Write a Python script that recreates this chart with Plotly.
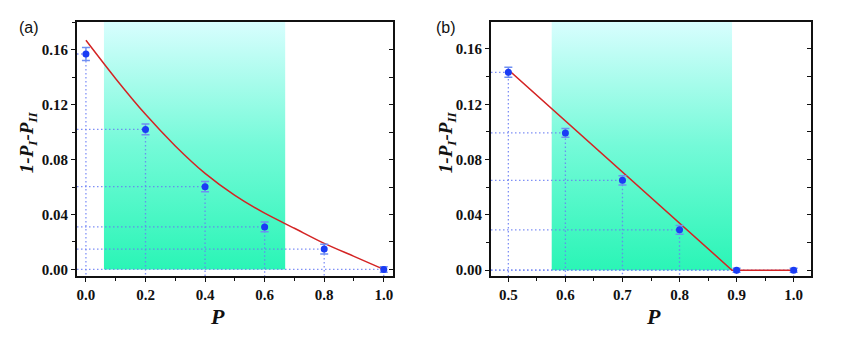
import plotly.graph_objects as go

# ---------------- data ----------------
# panel (a)
pa = [0.0, 0.2, 0.4, 0.6, 0.8, 1.0]
va = [0.157, 0.102, 0.0603, 0.031, 0.0148, 0.0]
ea = [0.0048, 0.0039, 0.0037, 0.0036, 0.0035, 0.002]
curve_a_p = [0.0, 0.1, 0.2, 0.3, 0.4, 0.5, 0.6, 0.7, 0.8, 0.9, 1.0]
curve_a_v = [0.167, 0.139, 0.113, 0.090, 0.070, 0.054, 0.041, 0.030, 0.019, 0.0095, 0.0]
shade_a = [0.0605, 0.669]

# panel (b)
pb = [0.5, 0.6, 0.7, 0.8, 0.9, 1.0]
vb = [0.1431, 0.0993, 0.065, 0.0292, 0.0, 0.0]
eb = [0.0036, 0.0032, 0.0034, 0.0032, 0.0015, 0.0015]
curve_b_p = [0.5, 0.892, 1.0]
curve_b_v = [0.145, 0.0, 0.0]
shade_b = [0.576, 0.892]

xticks_a = [0.0, 0.2, 0.4, 0.6, 0.8, 1.0]
xticks_b = [0.5, 0.6, 0.7, 0.8, 0.9, 1.0]
yticks = [0.00, 0.04, 0.08, 0.12, 0.16]

# ---------------- style ----------------
XR_A = [-0.03, 1.03]
XR_B = [0.4696, 1.0304]
YR_A = [-0.0049, 0.1804]
YR_B = [-0.0043, 0.1796]
DOM_Y = [1 - 277.8 / 337, 1 - 22 / 337]
DOM_XA = [77 / 865, 392.7 / 865]
DOM_XB = [491 / 865, 811 / 865]

RED = "#d42424"
BLUE = "#1a3cf5"
EBAR = "#6f8ff2"
DOT = "rgba(105,125,245,0.85)"
SERIF = "Liberation Serif"

fig = go.Figure()


def panel(px, pv, pe, cp, cv, shade, xr, yr, xa, ya, spline):
    # gradient shaded band
    fig.add_trace(go.Scatter(
        x=[shade[0], shade[1], shade[1], shade[0], shade[0]],
        y=[0.0, 0.0, yr[1], yr[1], 0.0],
        mode="lines", line=dict(width=0), fill="toself",
        fillgradient=dict(type="vertical",
                          colorscale=[[0, "#2af5b6"], [0.5, "#74fad8"], [1, "#d8fefe"]]),
        hoverinfo="skip", showlegend=False, xaxis=xa, yaxis=ya))
    # dotted drop lines
    for x, y in zip(px, pv):
        fig.add_trace(go.Scatter(
            x=[xr[0], x, x], y=[y, y, yr[0]], mode="lines",
            line=dict(color=DOT, width=1.3, dash="1.5px,2.5px"),
            hoverinfo="skip", showlegend=False, xaxis=xa, yaxis=ya))
    # theory curve
    fig.add_trace(go.Scatter(
        x=cp, y=cv, mode="lines",
        line=dict(color=RED, width=1.5, shape="spline" if spline else "linear",
                  smoothing=0.8),
        showlegend=False, xaxis=xa, yaxis=ya))
    # data points
    fig.add_trace(go.Scatter(
        x=px, y=pv, mode="markers",
        marker=dict(color=BLUE, size=7),
        error_y=dict(type="data", array=pe, visible=True, color=EBAR,
                     thickness=1.5, width=4),
        showlegend=False, xaxis=xa, yaxis=ya))


panel(pa, va, ea, curve_a_p, curve_a_v, shade_a, XR_A, YR_A, "x", "y", True)
panel(pb, vb, eb, curve_b_p, curve_b_v, shade_b, XR_B, YR_B, "x2", "y2", False)


def tickfont():
    return dict(family=SERIF, size=15, color="#111", weight="bold")


def xaxis(dom, rng, ticks, minor, anchor):
    return dict(domain=dom, range=rng, anchor=anchor, tickvals=ticks,
                ticktext=[f"{t:.1f}" for t in ticks],
                showgrid=False, zeroline=False, showline=True, linecolor="#111",
                linewidth=2, mirror=True, ticks="outside", ticklen=4, tickwidth=1.2,
                tickcolor="#111", tickfont=tickfont(),
                minor=dict(tickvals=minor, ticks="outside", ticklen=3, tickcolor="#111"))


def yaxis(anchor, rng):
    return dict(domain=DOM_Y, range=rng, anchor=anchor, tickvals=yticks,
                ticktext=[f"{t:.2f}" for t in yticks],
                showgrid=False, zeroline=False, showline=True, linecolor="#111",
                linewidth=2, mirror=True, ticks="outside", ticklen=4, tickwidth=1.2,
                tickcolor="#111", tickfont=tickfont(),
                minor=dict(dtick=0.02, tick0=0, ticks="outside", ticklen=3, tickcolor="#111"))


def yright(overlay, anchor, rng):
    return dict(domain=DOM_Y, range=rng, overlaying=overlay, anchor=anchor, side="right",
                showgrid=False, zeroline=False, showline=False, showticklabels=False,
                tickvals=[0.0, 0.02, 0.04, 0.06, 0.08, 0.10, 0.12, 0.14, 0.16],
                ticks="inside", ticklen=4, tickwidth=1.2, tickcolor="#111")


fig.update_layout(
    width=865, height=337, margin=dict(l=0, r=0, t=0, b=0),
    paper_bgcolor="white", plot_bgcolor="white",
    xaxis=xaxis(DOM_XA, XR_A, xticks_a, [0.1, 0.3, 0.5, 0.7, 0.9], "y"),
    xaxis2=xaxis(DOM_XB, XR_B, xticks_b, [0.55, 0.65, 0.75, 0.85, 0.95], "y2"),
    yaxis=yaxis("x", YR_A), yaxis2=yaxis("x2", YR_B),
    yaxis3=yright("y", "x", YR_A), yaxis4=yright("y2", "x2", YR_B),
)
# dummy traces to activate right-side tick axes
fig.add_trace(go.Scatter(x=[None], y=[None], xaxis="x", yaxis="y3", showlegend=False))
fig.add_trace(go.Scatter(x=[None], y=[None], xaxis="x2", yaxis="y4", showlegend=False))

ytitle = "<b><i>1-P<sub>I</sub>-P<sub>II</sub></i></b>"
ann = [
    dict(text="(a)", x=17 / 865, y=1 - 28 / 337, xanchor="left",
         font=dict(family="Liberation Sans", size=16, color="#111")),
    dict(text="(b)", x=434 / 865, y=1 - 28 / 337, xanchor="left",
         font=dict(family="Liberation Sans", size=16, color="#111")),
    dict(text=ytitle, x=28 / 865, y=1 - 143 / 337, textangle=-90,
         font=dict(family=SERIF, size=19, color="#111")),
    dict(text=ytitle, x=447 / 865, y=1 - 143 / 337, textangle=-90,
         font=dict(family=SERIF, size=19, color="#111")),
    dict(text="<b><i>P</i></b>", x=217 / 865, y=1 - 318 / 337,
         font=dict(family=SERIF, size=22, color="#111")),
    dict(text="<b><i>P</i></b>", x=653 / 865, y=1 - 318 / 337,
         font=dict(family=SERIF, size=22, color="#111")),
]
for a in ann:
    a.update(xref="paper", yref="paper", showarrow=False)
    a.setdefault("xanchor", "center")
    a.setdefault("yanchor", "middle")
fig.update_layout(annotations=ann)

fig.write_html("out.html")
